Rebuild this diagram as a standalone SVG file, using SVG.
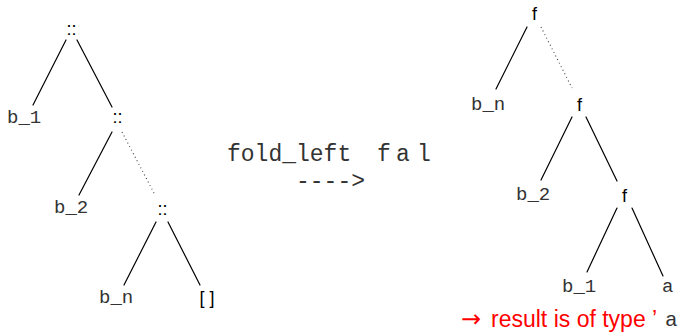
<svg xmlns="http://www.w3.org/2000/svg" width="685" height="333" viewBox="0 0 685 333">
<style>
.bg{fill:#fff}
.e{stroke:#000;stroke-width:1.2;fill:none;stroke-linecap:round}
.d{stroke:#444;stroke-width:1.1;fill:none;stroke-dasharray:1 3}
.s{font-family:"Liberation Sans",Arial,sans-serif;font-size:18px;fill:#000;text-anchor:middle}
.m{font-family:"Liberation Mono","Courier New",monospace;font-size:19px;fill:#333}
.c{font-family:"Liberation Mono","Courier New",monospace;font-size:23px;fill:#333}
.r{font-family:"Liberation Sans",Arial,sans-serif;font-size:23px;fill:#ff0000}
.ar{font-family:"DejaVu Sans",sans-serif;font-size:24px;fill:#ff0000}
</style>
<rect class="bg" x="0" y="0" width="685" height="333"/>
<g id="connectors">
<line class="e" x1="66" y1="40" x2="33" y2="105"/>
<line class="e" x1="77" y1="40" x2="112" y2="107"/>
<line class="e" x1="112" y1="132" x2="79" y2="195"/>
<line class="d" x1="122" y1="132" x2="155" y2="195"/>
<line class="e" x1="156" y1="222" x2="124" y2="285"/>
<line class="e" x1="168" y1="222" x2="200" y2="285"/>
<line class="e" x1="527" y1="27" x2="496" y2="89"/>
<line class="d" x1="541" y1="27" x2="572" y2="88"/>
<line class="e" x1="572" y1="117" x2="541" y2="180"/>
<line class="e" x1="586" y1="117" x2="617" y2="181"/>
<line class="e" x1="617" y1="208" x2="587" y2="272"/>
<line class="e" x1="632" y1="208" x2="663" y2="276"/>
</g>
<g id="l_cons1"><text class="s" x="71.5" y="35">::</text></g>
<g id="l_b1"><text class="m" x="7" y="123">b_1</text></g>
<g id="l_cons2"><text class="s" x="117.5" y="123">::</text></g>
<g id="l_b2"><text class="m" x="54" y="213">b_2</text></g>
<g id="l_cons3"><text class="s" x="162.5" y="215">::</text></g>
<g id="l_bn"><text class="m" x="99" y="303">b_n</text></g>
<g id="l_nil"><text class="s" x="207" y="304">[ ]</text></g>
<g id="label"><text class="c" x="227" y="161">fold_left</text><text class="c" x="377 396 417" y="161">fal</text><text class="c" x="296" y="188">----&gt;</text></g>
<g id="r_f1"><text class="s" x="534.5" y="20">f</text></g>
<g id="r_bn"><text class="m" x="471" y="110">b_n</text></g>
<g id="r_f2"><text class="s" x="579.5" y="111">f</text></g>
<g id="r_b2"><text class="m" x="516" y="200">b_2</text></g>
<g id="r_f3"><text class="s" x="624.5" y="202">f</text></g>
<g id="r_b1"><text class="m" x="562" y="292">b_1</text></g>
<g id="r_a"><text class="m" x="662" y="292">a</text></g>
<g id="result"><text class="ar" x="461" y="327">→</text><text class="r" x="491" y="327">result is of type</text><text class="r" x="652" y="327">’</text><text class="c" x="665" y="326" style="font-size:21px">a</text></g>
</svg>
